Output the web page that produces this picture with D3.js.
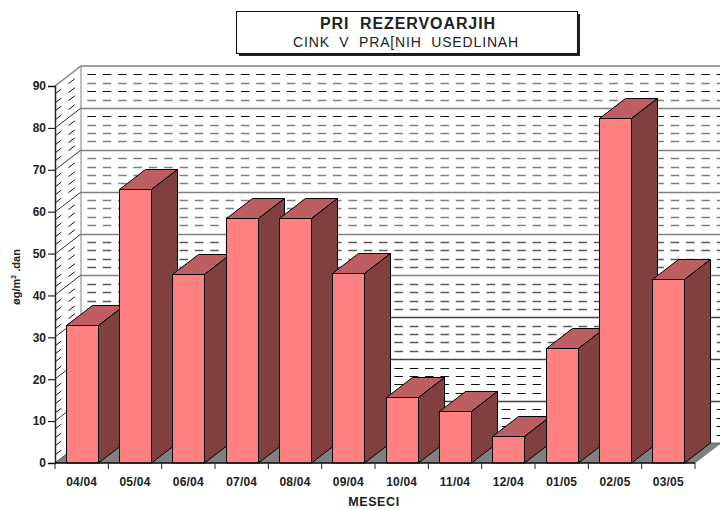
<!DOCTYPE html>
<html>
<head>
<meta charset="utf-8">
<script src="https://cdn.jsdelivr.net/npm/d3@7"></script>
<style>
body{margin:0;background:#fff;}
text{font-family:"Liberation Sans",Arial,sans-serif;fill:#222;}
</style>
</head>
<body>
<svg id="chart" width="720" height="509"></svg>
<script>
const meseci=["04/04","05/04","06/04","07/04","08/04","09/04","10/04","11/04","12/04","01/05","02/05","03/05"];
const cink=[33,65.4,45.2,58.5,58.5,45.3,15.8,12.4,6.4,27.4,82.3,43.9];
const majorTicks=[0,10,20,30,40,50,60,70,80,90];
const minorTicks=[2,4,6,8,12,14,16,18,22,24,26,28,32,34,36,38,42,44,46,48,52,54,56,58,62,64,66,68,72,74,76,78,82,84,86,88];
const blackDash=[2,4,6,8,12,14,16,18,78,84,88];

const svg=d3.select("#chart");

//decalage de la perspective
const dx=26, dy=20;

const x=d3.scaleBand().domain(meseci).range([55,695]).paddingInner(0.4).paddingOuter(0.2);
const y=d3.scaleLinear().domain([0,90]).range([463,86]);
const step=x.step();
const x0=x.range()[0], x1=x.range()[1];
//pour garder des traits nets
const px=v=>Math.round(v)+0.5;
const barX=d=>px(x(d));
const barY=v=>px(y(v));

function dashColor(v){
  if(blackDash.includes(v)) return "#111";
  return v<50?"#5a5a5a":"#808080";
}

//mur du fond + mur de gauche
const wall=svg.append("g");
wall.append("path")
  .attr("d",`M${x0},${y(90)}L${x0+dx},${y(90)-dy}H${x1+dx+26}`)
  .attr("fill","none").attr("stroke","#808080").attr("stroke-width",1.5);

minorTicks.forEach(v=>{
  const yy=Math.round(y(v));
  const thin=blackDash.includes(v);
  wall.append("line")
    .attr("x1",x0+dx).attr("x2",x1+dx+26)
    .attr("y1",yy-dy+0.5).attr("y2",yy-dy+0.5)
    .attr("stroke",dashColor(v)).attr("stroke-width",thin?1:1.5)
    .attr("stroke-dasharray","8.6 6.75")
    .attr("stroke-dashoffset",9);
  wall.append("line")
    .attr("x1",x0).attr("x2",x0+dx)
    .attr("y1",yy).attr("y2",yy-dy)
    .attr("stroke","#111").attr("stroke-width",1)
    .attr("stroke-dasharray","8 9");
});
majorTicks.slice(0,-1).forEach(v=>{
  const yy=Math.round(y(v));
  wall.append("line")
    .attr("x1",x0+dx).attr("x2",x1+dx+26)
    .attr("y1",yy-dy+0.5).attr("y2",yy-dy+0.5)
    .attr("stroke",v<40?"#444":"#808080").attr("stroke-width",1.5);
  wall.append("line")
    .attr("x1",x0).attr("x2",x0+dx)
    .attr("y1",yy).attr("y2",yy-dy)
    .attr("stroke","#333").attr("stroke-width",1);
});
wall.append("line")
  .attr("x1",x0+dx).attr("x2",x0+dx)
  .attr("y1",y(90)-dy).attr("y2",y(0)-dy)
  .attr("stroke","#808080").attr("stroke-width",1);

//plancher
svg.append("path")
  .attr("d",`M${x0},${y(0)}L${x0+dx},${y(0)-dy}H${x1+dx}L${x1},${y(0)}Z`)
  .attr("fill","#808080").attr("stroke","#555").attr("stroke-width",0.5);

//les barres, de gauche a droite
const bw=Math.round(x.bandwidth());
const bars=svg.append("g").selectAll("g").data(meseci).join("g");
bars.append("path")
  .attr("d",(d,i)=>`M${barX(d)},${barY(cink[i])}l${dx},${-dy}h${bw}l${-dx},${dy}Z`)
  .attr("fill","#bd5f60").attr("stroke","#000").attr("stroke-width",1);
bars.append("path")
  .attr("d",(d,i)=>`M${barX(d)+bw},${barY(cink[i])}l${dx},${-dy}V${y(0)-dy}L${barX(d)+bw},${y(0)}Z`)
  .attr("fill","#804040").attr("stroke","#000").attr("stroke-width",1);
bars.append("rect")
  .attr("x",d=>barX(d))
  .attr("y",(d,i)=>barY(cink[i]))
  .attr("width",bw)
  .attr("height",(d,i)=>y(0)-barY(cink[i]))
  .attr("fill","#ff8080").attr("stroke","#000").attr("stroke-width",1);

//axes
const axisY=svg.append("g").attr("transform",`translate(${x0},0)`)
  .call(d3.axisLeft(y).tickValues(majorTicks).tickSize(7).tickPadding(2));
axisY.select(".domain").attr("stroke","#222").attr("stroke-width",1.5);
axisY.selectAll("text").style("font-family",'"Liberation Sans",Arial,sans-serif')
  .style("font-size","12px").style("font-weight","bold");

svg.append("line").attr("x1",x0).attr("x2",x1)
  .attr("y1",y(0)).attr("y2",y(0)).attr("stroke","#111").attr("stroke-width",1.5);

const axisX=svg.append("g").attr("transform",`translate(0,${y(0)})`)
  .call(d3.axisBottom(x).tickSize(0).tickPadding(14));
axisX.select(".domain").remove();
axisX.selectAll("text").style("font-family",'"Liberation Sans",Arial,sans-serif')
  .style("font-size","12px").style("font-weight","bold").style("letter-spacing","0.2px");
d3.range(meseci.length+1).forEach(i=>{
  svg.append("line")
    .attr("x1",x0+i*step).attr("x2",x0+i*step)
    .attr("y1",y(0)).attr("y2",y(0)+6)
    .attr("stroke","#222").attr("stroke-width",1);
});

//titres
svg.append("text").attr("x",374).attr("y",506)
  .attr("text-anchor","middle").attr("font-size",12.5).attr("font-weight","bold")
  .attr("letter-spacing",0.6).text("MESECI");

const yLabel=svg.append("text").attr("transform","translate(20,277) rotate(-90)")
  .attr("text-anchor","middle").attr("font-size",11).attr("font-weight","bold");
yLabel.append("tspan").text("øg/m");
yLabel.append("tspan").attr("font-size",7).attr("dy",-4).text("2");
yLabel.append("tspan").attr("dy",4).text(" .dan");

svg.append("rect").attr("x",239).attr("y",14).attr("width",341).attr("height",42).attr("fill","#222");
svg.append("rect").attr("x",236.5).attr("y",11.5).attr("width",341).attr("height",42)
  .attr("fill","#fff").attr("stroke","#111").attr("stroke-width",1);
svg.append("text").attr("x",408).attr("y",28.5)
  .attr("text-anchor","middle").attr("font-size",16).attr("font-weight","bold")
  .attr("letter-spacing",0.9).style("white-space","pre").text("PRI  REZERVOARJIH");
svg.append("text").attr("x",406).attr("y",46.5)
  .attr("text-anchor","middle").attr("font-size",14)
  .attr("letter-spacing",0.85).style("white-space","pre").text("CINK  V  PRA[NIH  USEDLINAH");
</script>
</body>
</html>
